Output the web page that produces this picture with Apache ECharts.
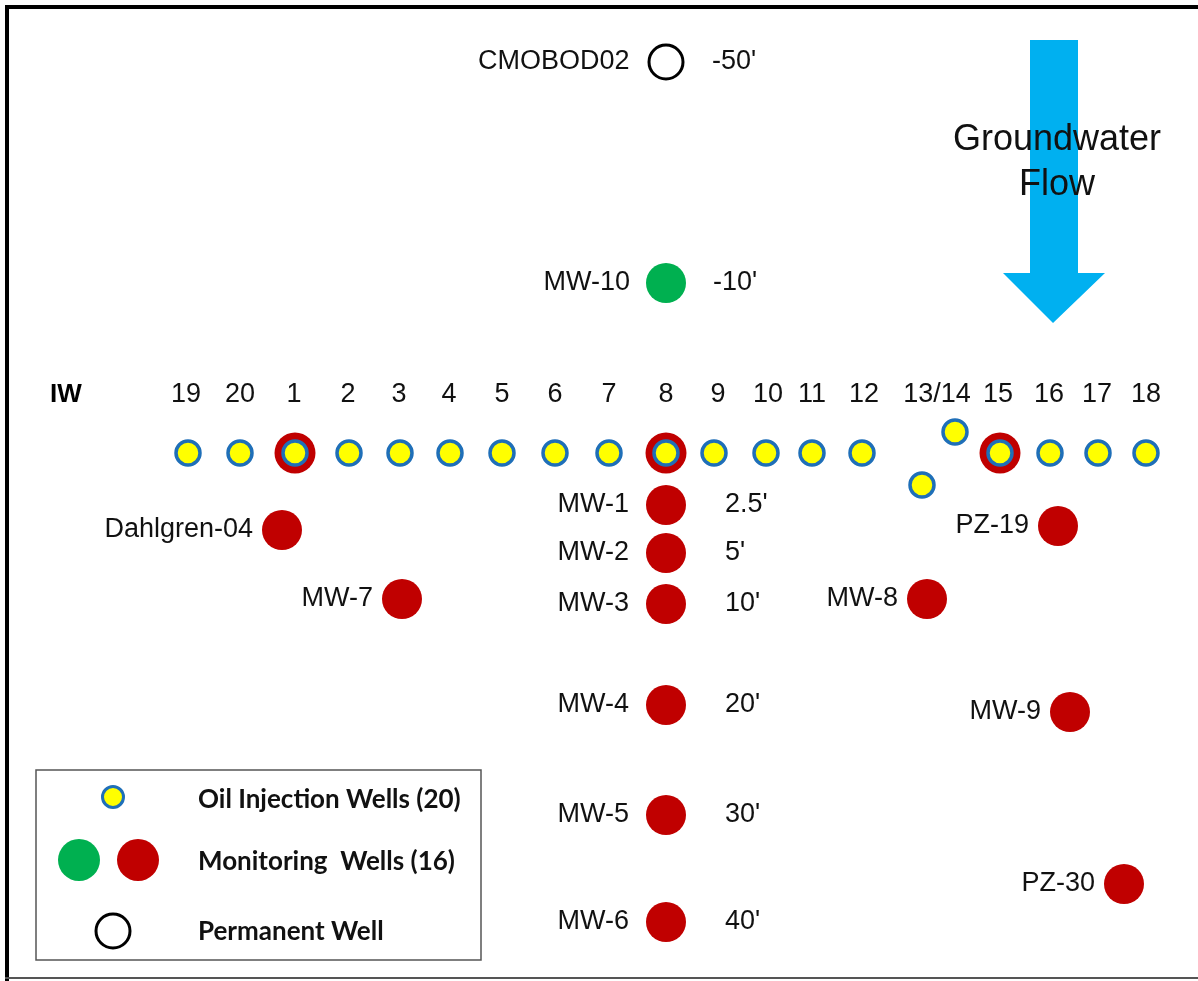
<!DOCTYPE html>
<html>
<head>
<meta charset="utf-8">
<script src="https://cdn.jsdelivr.net/npm/echarts@6/dist/echarts.min.js"></script>
<style>
  html, body { margin: 0; padding: 0; background: #fff; }
  #chart { width: 1198px; height: 981px; }
</style>
</head>
<body>
<div id="chart"></div>
<script>
// site plan in diagram units (x to the right, y downward)
const injNames = ['19', '20', '1', '2', '3', '4', '5', '6', '7', '8', '9', '10', '11', '12', '13', '14', '15', '16', '17', '18'];
const injX = [188, 240, 295, 349, 400, 450, 502, 555, 609, 666, 714, 766, 812, 862, 922, 955, 1000, 1050, 1098, 1146];
const injY = [453, 453, 453, 453, 453, 453, 453, 453, 453, 453, 453, 453, 453, 453, 485, 432, 453, 453, 453, 453];
const ringedWells = ['1', '8', '15'];

const tickLabels = ['19', '20', '1', '2', '3', '4', '5', '6', '7', '8', '9', '10', '11', '12', '13/14', '15', '16', '17', '18'];
const tickX = [186, 240, 294, 348, 399, 449, 502, 555, 609, 666, 718, 768, 812, 864, 937, 998, 1049, 1097, 1146];
const tickY = 395;

const colWells = ['MW-1', 'MW-2', 'MW-3', 'MW-4', 'MW-5', 'MW-6'];
const colX = 666;
const colY = [505, 553, 604, 705, 815, 922];
const colDepth = ["2.5'", "5'", "10'", "20'", "30'", "40'"];

const fieldWells = ['Dahlgren-04', 'MW-7', 'MW-8', 'PZ-19', 'MW-9', 'PZ-30'];
const fieldX = [282, 402, 927, 1058, 1070, 1124];
const fieldY = [530, 599, 599, 526, 712, 884];

const upWell = ['MW-10', 666, 283, "-10'"];
const permWell = ['CMOBOD02', 666, 62, "-50'"];

const RED = '#C00000';
const BLUE = '#1F6FB8';
const YELLOW = '#FFFF00';
const GREEN = '#00B050';
const FONT = 'Liberation Sans';
const FS = 27;

var chart = echarts.init(document.getElementById('chart'));

function leftLabel(dist) {
    return { show: true, position: 'left', distance: dist, formatter: '{b}', fontFamily: FONT, fontSize: FS, color: '#111' };
}
function rightLabel(dist) {
    return { show: true, position: 'right', distance: dist, formatter: (p) => p.data.depth, fontFamily: FONT, fontSize: FS, color: '#111' };
}
function solid(color, extra) {
    return Object.assign({ color: color, opacity: 1 }, extra || {});
}

const injData = injNames.map((n, i) => ({ name: n, value: [injX[i], injY[i]] }));
const ringData = injData.filter(d => ringedWells.indexOf(d.name) >= 0);
const tickData = tickLabels.map((t, i) => ({ name: t, value: [tickX[i], tickY] }));
const colData = colWells.map((n, i) => ({ name: n, value: [colX, colY[i]], depth: colDepth[i] }));
const fieldData = fieldWells.map((n, i) => ({ name: n, value: [fieldX[i], fieldY[i]] }));
const upData = [{ name: upWell[0], value: [upWell[1], upWell[2]], depth: upWell[3] }];
const permData = [{ name: permWell[0], value: [permWell[1], permWell[2]], depth: permWell[3] }];

const option = {
    animation: false,
    grid: { left: 0, right: 0, top: 0, bottom: 0 },
    xAxis: { type: 'value', min: 0, max: 1198, show: false },
    yAxis: { type: 'value', min: 0, max: 981, inverse: true, show: false },
    series: [
        {
            type: 'scatter', name: 'ticks', data: tickData, symbolSize: 1,
            itemStyle: solid('transparent'),
            label: { show: true, position: 'inside', formatter: '{b}', fontFamily: FONT, fontSize: FS, color: '#111' }
        },
        {
            type: 'scatter', name: 'ring', data: ringData, symbolSize: 41, z: 2,
            itemStyle: solid(RED)
        },
        {
            type: 'scatter', name: 'Oil Injection Wells', data: injData, symbolSize: 24, z: 3,
            itemStyle: solid(YELLOW, { borderColor: BLUE, borderWidth: 3.5 })
        },
        {
            type: 'scatter', name: 'column', data: colData, symbolSize: 40,
            itemStyle: solid(RED), label: leftLabel(17)
        },
        {
            type: 'scatter', name: 'column depth', data: colData, symbolSize: 40,
            itemStyle: solid('transparent'), label: rightLabel(39)
        },
        {
            type: 'scatter', name: 'field', data: fieldData, symbolSize: 40,
            itemStyle: solid(RED), label: leftLabel(9)
        },
        {
            type: 'scatter', name: 'upgradient', symbolSize: 40, data: upData,
            itemStyle: solid(GREEN), label: leftLabel(16)
        },
        {
            type: 'scatter', name: 'upgradient depth', symbolSize: 40, data: upData,
            itemStyle: solid('transparent'), label: rightLabel(27)
        },
        {
            type: 'scatter', name: 'permanent', symbolSize: 34, data: permData,
            itemStyle: solid('#fff', { borderColor: '#000', borderWidth: 3 }), label: leftLabel(18)
        },
        {
            type: 'scatter', name: 'permanent depth', symbolSize: 34, data: permData,
            itemStyle: solid('transparent'), label: rightLabel(29)
        }
    ],
    graphic: [
        // frame
        { type: 'rect', shape: { x: 5, y: 5, width: 1193, height: 4 }, style: { fill: '#000' } },
        { type: 'rect', shape: { x: 5, y: 5, width: 4, height: 976 }, style: { fill: '#000' } },
        { type: 'rect', shape: { x: 5, y: 977, width: 1193, height: 2 }, style: { fill: '#555' } },
        // IW caption
        { type: 'text', x: 66, y: 395, style: { text: 'IW', font: 'bold 26px "Liberation Sans"', fill: '#000', align: 'center', verticalAlign: 'middle' } },
        // groundwater arrow
        {
            type: 'polygon', z: 1,
            shape: { points: [[1030, 40], [1078, 40], [1078, 273], [1105, 273], [1053, 323], [1003, 273], [1030, 273]] },
            style: { fill: '#00B0F0' }
        },
        { type: 'text', z: 5, x: 1057, y: 140, style: { text: 'Groundwater', font: '36px "Liberation Sans"', fill: '#111', align: 'center', verticalAlign: 'middle' } },
        { type: 'text', z: 5, x: 1057, y: 185, style: { text: 'Flow', font: '36px "Liberation Sans"', fill: '#111', align: 'center', verticalAlign: 'middle' } },
        // legend box
        { type: 'rect', shape: { x: 36, y: 770, width: 445, height: 190 }, style: { fill: '#fff', stroke: '#555', lineWidth: 1.5 } },
        { type: 'circle', shape: { cx: 113, cy: 797, r: 10.5 }, style: { fill: YELLOW, stroke: BLUE, lineWidth: 3 } },
        { type: 'circle', shape: { cx: 79, cy: 860, r: 21 }, style: { fill: GREEN } },
        { type: 'circle', shape: { cx: 138, cy: 860, r: 21 }, style: { fill: RED } },
        { type: 'circle', shape: { cx: 113, cy: 931, r: 17 }, style: { fill: '#fff', stroke: '#000', lineWidth: 3 } },
        { type: 'text', x: 198, y: 800, style: { text: 'Oil Injection Wells (20)', font: 'bold 26px Lato', fill: '#111', verticalAlign: 'middle' } },
        { type: 'text', x: 198, y: 862, style: { text: 'Monitoring  Wells (16)', font: 'bold 26px Lato', fill: '#111', verticalAlign: 'middle' } },
        { type: 'text', x: 198, y: 932, style: { text: 'Permanent Well', font: 'bold 26px Lato', fill: '#111', verticalAlign: 'middle' } }
    ]
};

chart.setOption(option);
</script>
</body>
</html>
